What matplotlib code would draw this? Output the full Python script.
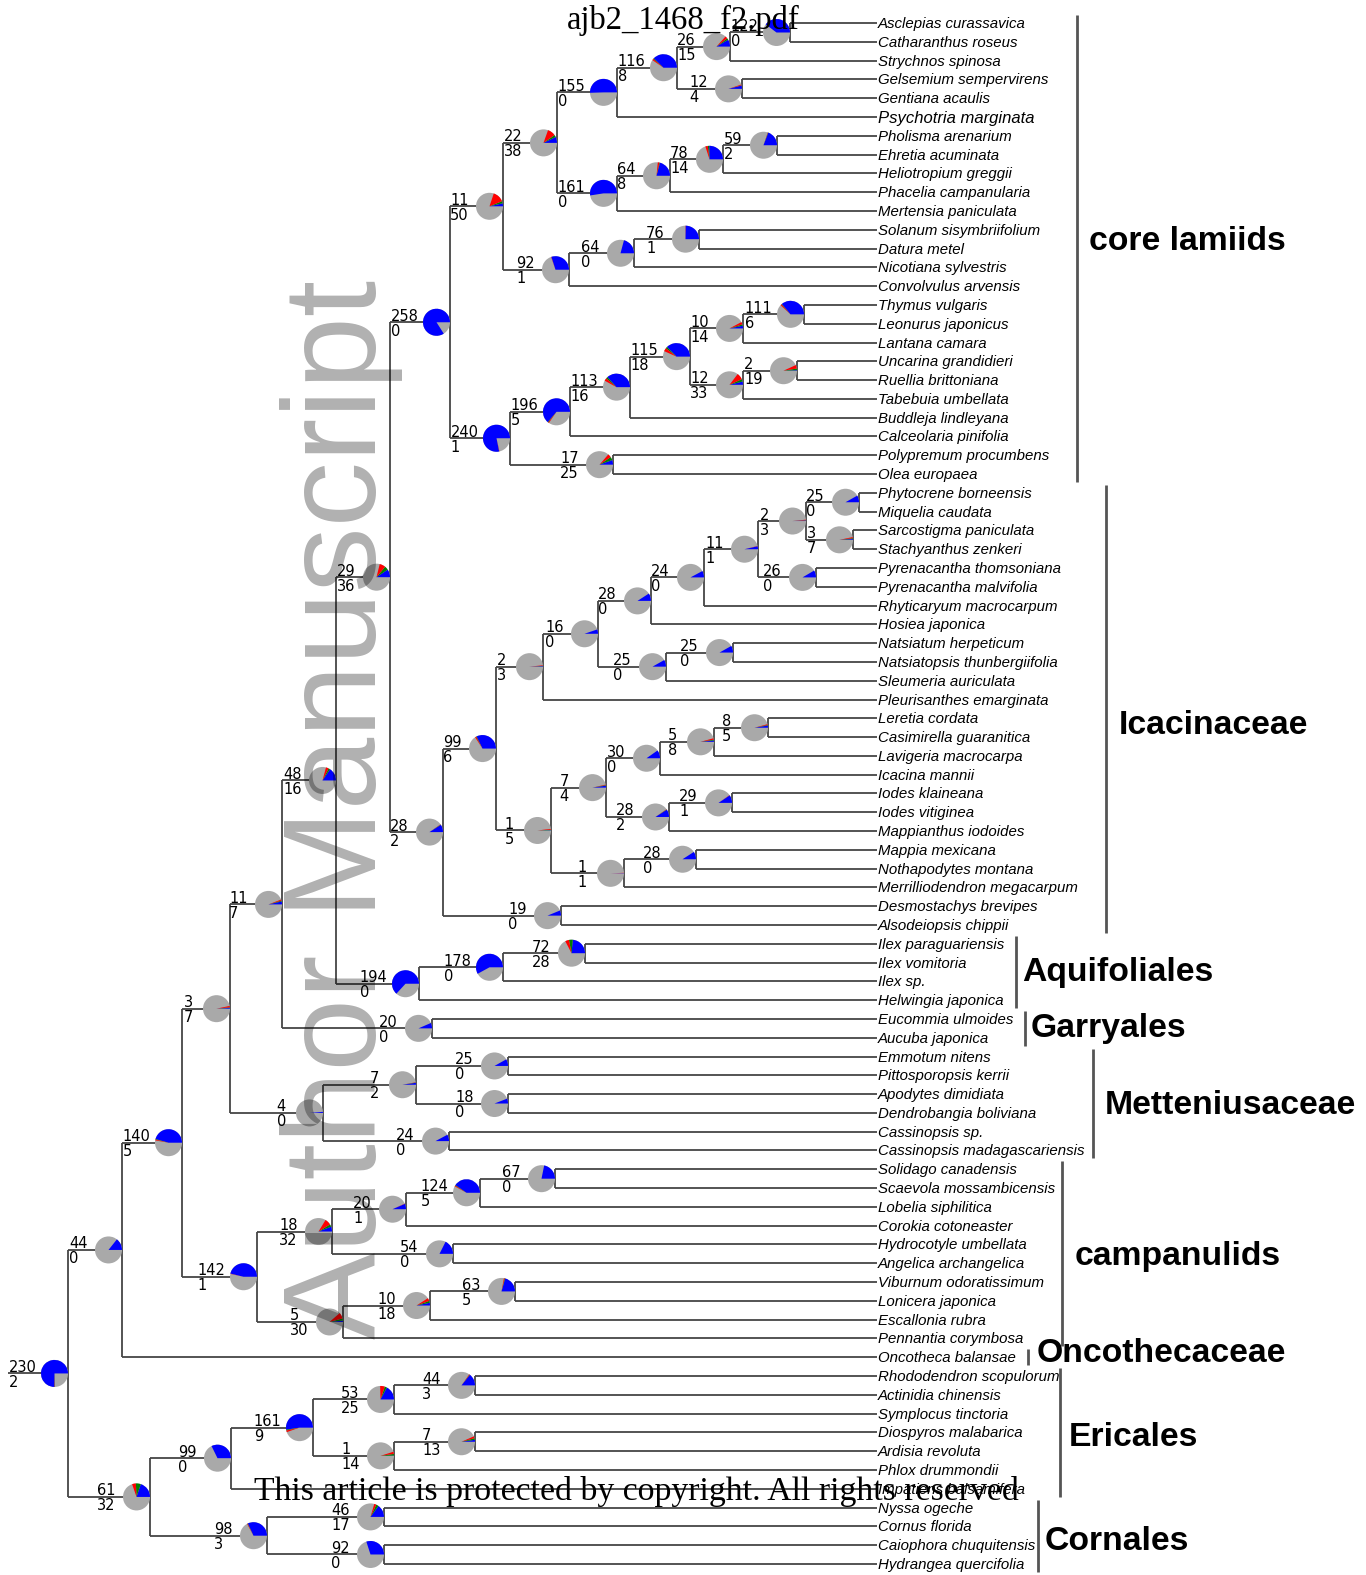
import matplotlib
matplotlib.use("Agg")
import matplotlib.pyplot as plt
from matplotlib.patches import Wedge

# tips, top to bottom
taxa = [
    "Asclepias curassavica", "Catharanthus roseus", "Strychnos spinosa",
    "Gelsemium sempervirens", "Gentiana acaulis", "Psychotria marginata",
    "Pholisma arenarium", "Ehretia acuminata", "Heliotropium greggii",
    "Phacelia campanularia", "Mertensia paniculata", "Solanum sisymbriifolium",
    "Datura metel", "Nicotiana sylvestris", "Convolvulus arvensis",
    "Thymus vulgaris", "Leonurus japonicus", "Lantana camara",
    "Uncarina grandidieri", "Ruellia brittoniana", "Tabebuia umbellata",
    "Buddleja lindleyana", "Calceolaria pinifolia", "Polypremum procumbens",
    "Olea europaea", "Phytocrene borneensis", "Miquelia caudata",
    "Sarcostigma paniculata", "Stachyanthus zenkeri", "Pyrenacantha thomsoniana",
    "Pyrenacantha malvifolia", "Rhyticaryum macrocarpum", "Hosiea japonica",
    "Natsiatum herpeticum", "Natsiatopsis thunbergiifolia", "Sleumeria auriculata",
    "Pleurisanthes emarginata", "Leretia cordata", "Casimirella guaranitica",
    "Lavigeria macrocarpa", "Icacina mannii", "Iodes klaineana",
    "Iodes vitiginea", "Mappianthus iodoides", "Mappia mexicana",
    "Nothapodytes montana", "Merrilliodendron megacarpum", "Desmostachys brevipes",
    "Alsodeiopsis chippii", "Ilex paraguariensis", "Ilex vomitoria", "Ilex sp.",
    "Helwingia japonica", "Eucommia ulmoides", "Aucuba japonica",
    "Emmotum nitens", "Pittosporopsis kerrii", "Apodytes dimidiata",
    "Dendrobangia boliviana", "Cassinopsis sp.", "Cassinopsis madagascariensis",
    "Solidago canadensis", "Scaevola mossambicensis", "Lobelia siphilitica",
    "Corokia cotoneaster", "Hydrocotyle umbellata", "Angelica archangelica",
    "Viburnum odoratissimum", "Lonicera japonica", "Escallonia rubra",
    "Pennantia corymbosa", "Oncotheca balansae", "Rhododendron scopulorum",
    "Actinidia chinensis", "Symplocus tinctoria", "Diospyros malabarica",
    "Ardisia revoluta", "Phlox drummondii", "Impatiens balsamifera",
    "Nyssa ogeche", "Cornus florida", "Caiophora chuquitensis",
    "Hydrangea quercifolia",
]
big_taxa = ["Psychotria marginata"]

# internal nodes -> (child, child)
children = {
    "n_apoc": ("Asclepias curassavica", "Catharanthus roseus"),
    "n_gen1": ("n_apoc", "Strychnos spinosa"),
    "n_gen2": ("Gelsemium sempervirens", "Gentiana acaulis"),
    "n_gen3": ("n_gen1", "n_gen2"),
    "n_gent": ("n_gen3", "Psychotria marginata"),
    "n_bor1": ("Pholisma arenarium", "Ehretia acuminata"),
    "n_bor2": ("n_bor1", "Heliotropium greggii"),
    "n_bor3": ("n_bor2", "Phacelia campanularia"),
    "n_bora": ("n_bor3", "Mertensia paniculata"),
    "n_gebo": ("n_gent", "n_bora"),
    "n_sol1": ("Solanum sisymbriifolium", "Datura metel"),
    "n_sol2": ("n_sol1", "Nicotiana sylvestris"),
    "n_sola": ("n_sol2", "Convolvulus arvensis"),
    "n_gbs": ("n_gebo", "n_sola"),
    "n_lam1": ("Thymus vulgaris", "Leonurus japonicus"),
    "n_lam2": ("n_lam1", "Lantana camara"),
    "n_lam3": ("Uncarina grandidieri", "Ruellia brittoniana"),
    "n_lam4": ("n_lam3", "Tabebuia umbellata"),
    "n_lam5": ("n_lam2", "n_lam4"),
    "n_lam6": ("n_lam5", "Buddleja lindleyana"),
    "n_lam7": ("n_lam6", "Calceolaria pinifolia"),
    "n_olea": ("Polypremum procumbens", "Olea europaea"),
    "n_lami": ("n_lam7", "n_olea"),
    "n_core": ("n_gbs", "n_lami"),
    "n_ic1": ("Phytocrene borneensis", "Miquelia caudata"),
    "n_ic2": ("Sarcostigma paniculata", "Stachyanthus zenkeri"),
    "n_ic3": ("n_ic1", "n_ic2"),
    "n_ic4": ("Pyrenacantha thomsoniana", "Pyrenacantha malvifolia"),
    "n_ic5": ("n_ic3", "n_ic4"),
    "n_ic6": ("n_ic5", "Rhyticaryum macrocarpum"),
    "n_ic7": ("n_ic6", "Hosiea japonica"),
    "n_ic8": ("Natsiatum herpeticum", "Natsiatopsis thunbergiifolia"),
    "n_ic9": ("n_ic8", "Sleumeria auriculata"),
    "n_ic10": ("n_ic7", "n_ic9"),
    "n_ic11": ("n_ic10", "Pleurisanthes emarginata"),
    "n_ic12": ("Leretia cordata", "Casimirella guaranitica"),
    "n_ic13": ("n_ic12", "Lavigeria macrocarpa"),
    "n_ic14": ("n_ic13", "Icacina mannii"),
    "n_ic15": ("Iodes klaineana", "Iodes vitiginea"),
    "n_ic16": ("n_ic15", "Mappianthus iodoides"),
    "n_ic17": ("n_ic14", "n_ic16"),
    "n_ic18": ("Mappia mexicana", "Nothapodytes montana"),
    "n_ic19": ("n_ic18", "Merrilliodendron megacarpum"),
    "n_ic20": ("n_ic17", "n_ic19"),
    "n_ic21": ("n_ic11", "n_ic20"),
    "n_ic22": ("Desmostachys brevipes", "Alsodeiopsis chippii"),
    "n_icac": ("n_ic21", "n_ic22"),
    "n_lamd": ("n_core", "n_icac"),
    "n_aq1": ("Ilex paraguariensis", "Ilex vomitoria"),
    "n_aq2": ("n_aq1", "Ilex sp."),
    "n_aqui": ("n_aq2", "Helwingia japonica"),
    "n_laaq": ("n_lamd", "n_aqui"),
    "n_garr": ("Eucommia ulmoides", "Aucuba japonica"),
    "n_lag": ("n_laaq", "n_garr"),
    "n_me1": ("Emmotum nitens", "Pittosporopsis kerrii"),
    "n_me2": ("Apodytes dimidiata", "Dendrobangia boliviana"),
    "n_me3": ("n_me1", "n_me2"),
    "n_me4": ("Cassinopsis sp.", "Cassinopsis madagascariensis"),
    "n_mett": ("n_me3", "n_me4"),
    "n_lamiidae": ("n_lag", "n_mett"),
    "n_ca1": ("Solidago canadensis", "Scaevola mossambicensis"),
    "n_ca2": ("n_ca1", "Lobelia siphilitica"),
    "n_ca3": ("n_ca2", "Corokia cotoneaster"),
    "n_ca4": ("Hydrocotyle umbellata", "Angelica archangelica"),
    "n_ca5": ("n_ca3", "n_ca4"),
    "n_ca6": ("Viburnum odoratissimum", "Lonicera japonica"),
    "n_ca7": ("n_ca6", "Escallonia rubra"),
    "n_ca8": ("n_ca7", "Pennantia corymbosa"),
    "n_camp": ("n_ca5", "n_ca8"),
    "n_euas": ("n_lamiidae", "n_camp"),
    "n_onco": ("n_euas", "Oncotheca balansae"),
    "n_er1": ("Rhododendron scopulorum", "Actinidia chinensis"),
    "n_er2": ("n_er1", "Symplocus tinctoria"),
    "n_er3": ("Diospyros malabarica", "Ardisia revoluta"),
    "n_er4": ("n_er3", "Phlox drummondii"),
    "n_er5": ("n_er2", "n_er4"),
    "n_eric": ("n_er5", "Impatiens balsamifera"),
    "n_co1": ("Nyssa ogeche", "Cornus florida"),
    "n_co2": ("Caiophora chuquitensis", "Hydrangea quercifolia"),
    "n_corn": ("n_co1", "n_co2"),
    "n_ec": ("n_eric", "n_corn"),
    "root": ("n_onco", "n_ec"),
}

# node position along the tree axis (root on the left)
depth = {
    "n_apoc": 790, "n_gen1": 730, "n_gen2": 742, "n_gen3": 677, "n_gent": 617,
    "n_bor1": 777, "n_bor2": 723, "n_bor3": 670, "n_bora": 617, "n_gebo": 557,
    "n_sol1": 699, "n_sol2": 634, "n_sola": 569, "n_gbs": 503,
    "n_lam1": 804, "n_lam2": 743, "n_lam3": 797, "n_lam4": 743, "n_lam5": 690,
    "n_lam6": 630, "n_lam7": 570, "n_olea": 613, "n_lami": 510, "n_core": 450,
    "n_ic1": 859, "n_ic2": 853, "n_ic3": 806, "n_ic4": 816, "n_ic5": 758,
    "n_ic6": 704, "n_ic7": 651, "n_ic8": 733, "n_ic9": 666, "n_ic10": 598,
    "n_ic11": 543, "n_ic12": 768, "n_ic13": 714, "n_ic14": 660, "n_ic15": 732,
    "n_ic16": 669, "n_ic17": 606, "n_ic18": 696, "n_ic19": 624, "n_ic20": 551,
    "n_ic21": 496, "n_ic22": 561, "n_icac": 443, "n_lamd": 390,
    "n_aq1": 585, "n_aq2": 503, "n_aqui": 419, "n_laaq": 336, "n_garr": 432,
    "n_lag": 282, "n_me1": 508, "n_me2": 508, "n_me3": 416, "n_me4": 449,
    "n_mett": 323, "n_lamiidae": 230,
    "n_ca1": 555, "n_ca2": 480, "n_ca3": 406, "n_ca4": 453, "n_ca5": 332,
    "n_ca6": 515, "n_ca7": 430, "n_ca8": 343, "n_camp": 257, "n_euas": 182,
    "n_onco": 122, "n_er1": 475, "n_er2": 394, "n_er3": 475, "n_er4": 394,
    "n_er5": 313, "n_eric": 231, "n_co1": 384, "n_co2": 384, "n_corn": 267,
    "n_ec": 150, "root": 68,
}

# gene trees concordant / conflicting with each node
concordant = {
    "n_apoc": 122, "n_gen1": 26, "n_gen2": 12, "n_gen3": 116, "n_gent": 155,
    "n_bor1": 59, "n_bor2": 78, "n_bor3": 64, "n_bora": 161, "n_gebo": 22,
    "n_sol1": 76, "n_sol2": 64, "n_sola": 92, "n_gbs": 11,
    "n_lam1": 111, "n_lam2": 10, "n_lam3": 2, "n_lam4": 12, "n_lam5": 115,
    "n_lam6": 113, "n_lam7": 196, "n_olea": 17, "n_lami": 240, "n_core": 258,
    "n_ic1": 25, "n_ic2": 3, "n_ic3": 2, "n_ic4": 26, "n_ic5": 11,
    "n_ic6": 24, "n_ic7": 28, "n_ic8": 25, "n_ic9": 25, "n_ic10": 16,
    "n_ic11": 2, "n_ic12": 8, "n_ic13": 5, "n_ic14": 30, "n_ic15": 29,
    "n_ic16": 28, "n_ic17": 7, "n_ic18": 28, "n_ic19": 1, "n_ic20": 1,
    "n_ic21": 99, "n_ic22": 19, "n_icac": 28, "n_lamd": 29,
    "n_aq1": 72, "n_aq2": 178, "n_aqui": 194, "n_laaq": 48, "n_garr": 20,
    "n_lag": 11, "n_me1": 25, "n_me2": 18, "n_me3": 7, "n_me4": 24,
    "n_mett": 4, "n_lamiidae": 3,
    "n_ca1": 67, "n_ca2": 124, "n_ca3": 20, "n_ca4": 54, "n_ca5": 18,
    "n_ca6": 63, "n_ca7": 10, "n_ca8": 5, "n_camp": 142, "n_euas": 140,
    "n_onco": 44, "n_er1": 44, "n_er2": 53, "n_er3": 7, "n_er4": 1,
    "n_er5": 161, "n_eric": 99, "n_co1": 46, "n_co2": 92, "n_corn": 98,
    "n_ec": 61, "root": 230,
}
conflicting = {
    "n_apoc": 0, "n_gen1": 15, "n_gen2": 4, "n_gen3": 8, "n_gent": 0,
    "n_bor1": 2, "n_bor2": 14, "n_bor3": 8, "n_bora": 0, "n_gebo": 38,
    "n_sol1": 1, "n_sol2": 0, "n_sola": 1, "n_gbs": 50,
    "n_lam1": 6, "n_lam2": 14, "n_lam3": 19, "n_lam4": 33, "n_lam5": 18,
    "n_lam6": 16, "n_lam7": 5, "n_olea": 25, "n_lami": 1, "n_core": 0,
    "n_ic1": 0, "n_ic2": 7, "n_ic3": 3, "n_ic4": 0, "n_ic5": 1,
    "n_ic6": 0, "n_ic7": 0, "n_ic8": 0, "n_ic9": 0, "n_ic10": 0,
    "n_ic11": 3, "n_ic12": 5, "n_ic13": 8, "n_ic14": 0, "n_ic15": 1,
    "n_ic16": 2, "n_ic17": 4, "n_ic18": 0, "n_ic19": 1, "n_ic20": 5,
    "n_ic21": 6, "n_ic22": 0, "n_icac": 2, "n_lamd": 36,
    "n_aq1": 28, "n_aq2": 0, "n_aqui": 0, "n_laaq": 16, "n_garr": 0,
    "n_lag": 7, "n_me1": 0, "n_me2": 0, "n_me3": 2, "n_me4": 0,
    "n_mett": 0, "n_lamiidae": 7,
    "n_ca1": 0, "n_ca2": 5, "n_ca3": 1, "n_ca4": 0, "n_ca5": 32,
    "n_ca6": 5, "n_ca7": 18, "n_ca8": 30, "n_camp": 1, "n_euas": 5,
    "n_onco": 0, "n_er1": 3, "n_er2": 25, "n_er3": 13, "n_er4": 14,
    "n_er5": 9, "n_eric": 0, "n_co1": 17, "n_co2": 0, "n_corn": 3,
    "n_ec": 32, "root": 2,
}
# share of the conflict held by the most frequent alternative
top_alt = {
    "n_gen1": 6, "n_gen2": 1, "n_gen3": 3, "n_bor1": 1, "n_bor2": 5,
    "n_bor3": 2, "n_gebo": 8, "n_gbs": 8, "n_lam1": 2, "n_lam2": 5,
    "n_lam3": 6, "n_lam4": 9, "n_lam5": 6, "n_lam6": 6, "n_lam7": 2,
    "n_olea": 12, "n_ic2": 3, "n_ic3": 1, "n_ic11": 1, "n_ic12": 2,
    "n_ic13": 3, "n_ic16": 1, "n_ic17": 2, "n_ic20": 2, "n_ic21": 2,
    "n_icac": 1, "n_lamd": 14, "n_aq1": 14, "n_laaq": 6, "n_lag": 3,
    "n_me3": 1, "n_lamiidae": 2, "n_ca2": 2, "n_ca5": 9, "n_ca6": 2,
    "n_ca7": 7, "n_ca8": 8, "n_euas": 2, "n_er1": 1, "n_er2": 8,
    "n_er3": 6, "n_er4": 6, "n_er5": 3, "n_co1": 9, "n_corn": 1,
    "n_ec": 18, "root": 1,
}
n_genes = 307

clade_names = ["core lamiids", "Icacinaceae", "Aquifoliales", "Garryales",
               "Metteniusaceae", "campanulids", "Oncothecaceae", "Ericales", "Cornales"]
clade_first = ["Asclepias curassavica", "Phytocrene borneensis", "Ilex paraguariensis",
               "Eucommia ulmoides", "Emmotum nitens", "Solidago canadensis",
               "Oncotheca balansae", "Rhododendron scopulorum", "Nyssa ogeche"]
clade_last = ["Olea europaea", "Alsodeiopsis chippii", "Helwingia japonica",
              "Aucuba japonica", "Cassinopsis madagascariensis", "Pennantia corymbosa",
              "Oncotheca balansae", "Impatiens balsamifera", "Hydrangea quercifolia"]

# layout
W, H = 1366, 1575
TIP_X = 877
Y_TOP, ROW = 23.1, 18.79
PIE_R = 13.5
bar_x = [1077, 1106, 1016, 1025, 1093, 1062, 1028, 1060, 1038]
label_x = [1089, 1119, 1022, 1031, 1105, 1075, 1037, 1069, 1045]
label_y = [241, 725, 973, 1029, 1105, 1257, 1354, 1438, 1542]

LINE = dict(color="#454545", lw=1.3, zorder=1, solid_capstyle="butt")
BLUE, GREEN, RED, GREY = "#0000ff", "#008000", "#ff0000", "#a9a9a9"

ypos = {name: Y_TOP + i * ROW for i, name in enumerate(taxa)}


def place(node):
    if node not in ypos:
        a, b = children[node]
        ypos[node] = (place(a) + place(b)) / 2
    return ypos[node]


place("root")

fig = plt.figure(figsize=(W / 100, H / 100), dpi=100)
ax = fig.add_axes([0, 0, 1, 1])
ax.set_xlim(0, W)
ax.set_ylim(H, 0)
ax.axis("off")


def draw_pie(node):
    cx, cy = depth[node] - PIE_R, ypos[node]
    alt = top_alt.get(node, 0)
    ax.add_patch(Wedge((cx, cy), PIE_R, 0, 360, facecolor=GREY, lw=0, zorder=3))
    start = 0.0
    for count, col in ((concordant[node], BLUE), (alt, GREEN),
                       (conflicting[node] - alt, RED)):
        if count <= 0:
            continue
        sweep = 360.0 * count / n_genes
        # y axis is flipped, so negate angles to keep counter-clockwise on screen
        ax.add_patch(Wedge((cx, cy), PIE_R, -(start + sweep), -start,
                           facecolor=col, lw=0, zorder=3.1))
        start += sweep


def draw_counts(node):
    # the two counts sit just left of the pie, left-aligned with each other
    y = ypos[node]
    top, bottom = str(concordant[node]), str(conflicting[node])
    n = max(len(top), len(bottom))
    x_left = depth[node] - 2 * PIE_R - 13 - 6.4 * n
    ax.text(x_left, y - 1.5, top, ha="left", va="baseline",
            fontsize=10.5, family="DejaVu Sans", zorder=4)
    ax.text(x_left, y + 1.5, bottom, ha="left", va="top",
            fontsize=10.5, family="DejaVu Sans", zorder=4)


for node, (a, b) in children.items():
    x = depth[node]
    ax.plot([x, x], [ypos[a], ypos[b]], **LINE)
    for kid in (a, b):
        if kid in children:
            ax.plot([x, depth[kid] - 2 * PIE_R], [ypos[kid]] * 2, **LINE)
            draw_pie(kid)
            draw_counts(kid)
        else:
            ax.plot([x, TIP_X], [ypos[kid]] * 2, **LINE)
            ax.text(TIP_X + 1, ypos[kid] + 1, kid, ha="left", va="center",
                    fontsize=12 if kid in big_taxa else 10.8,
                    family="Liberation Sans", style="italic", zorder=4)

# root stub
ax.plot([8, depth["root"]], [ypos["root"]] * 2, **LINE)
draw_pie("root")
draw_counts("root")

# clade brackets
for name, first, last, bx, lx, ly in zip(clade_names, clade_first, clade_last,
                                          bar_x, label_x, label_y):
    ax.plot([bx, bx], [ypos[first] - 8, ypos[last] + 8], color="#555555", lw=2,
            solid_capstyle="butt", zorder=2)
    ax.text(lx, ly, name, ha="left", va="center", fontsize=24.3,
            family="Liberation Sans", weight="bold", zorder=4)

# manuscript overlays
ax.text(376, 1339, "Author Manuscript", rotation=90, rotation_mode="anchor",
        ha="left", va="baseline", fontsize=94, family="Liberation Sans",
        color="black", alpha=0.31, zorder=5)
ax.text(683, 29, "ajb2_1468_f2.pdf", ha="center", va="baseline", fontsize=23.5,
        family="Liberation Serif", zorder=6)
ax.text(254, 1500, "This article is protected by copyright. All rights reserved",
        ha="left", va="baseline", fontsize=24.3, family="Liberation Serif", zorder=6)

fig.savefig("out.png", dpi=100)
